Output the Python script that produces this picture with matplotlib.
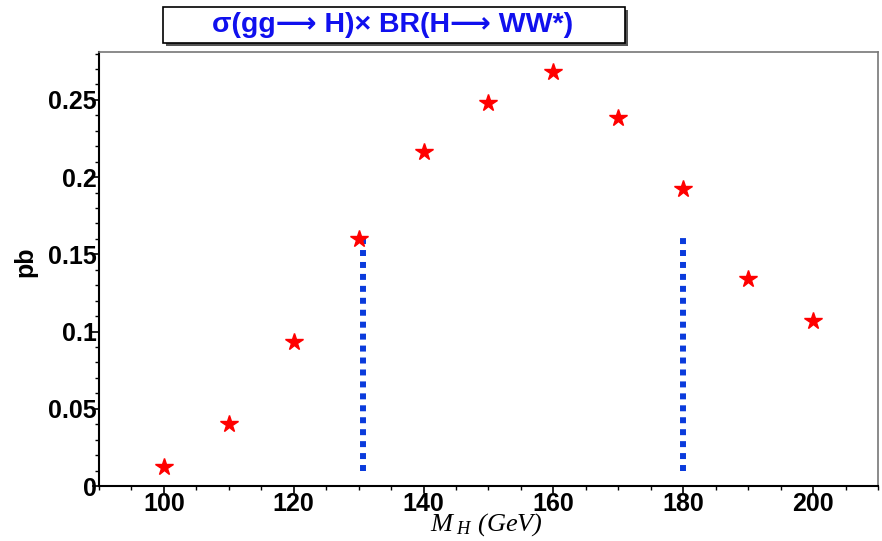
import matplotlib
matplotlib.use("Agg")
import matplotlib.pyplot as plt
from matplotlib.patches import Rectangle
from matplotlib.ticker import MultipleLocator

plt.rcParams['mathtext.fontset'] = 'custom'
plt.rcParams['mathtext.it'] = 'Liberation Serif:italic'
plt.rcParams['mathtext.rm'] = 'Liberation Serif'

mass = [100, 110, 120, 130, 140, 150, 160, 170, 180, 190, 200]
xsec = [0.012, 0.040, 0.093, 0.160, 0.216, 0.248, 0.268, 0.238, 0.192, 0.134, 0.107]
cut_lines = [130.7, 180.0]
cut_ymin = 0.010
cut_ymax = 0.162
x_ticks = [100, 120, 140, 160, 180, 200]
y_ticks = [0, 0.05, 0.1, 0.15, 0.2, 0.25]
y_tick_labels = ['0', '0.05', '0.1', '0.15', '0.2', '0.25']
title_text = 'σ(gg⟶ H)× BR(H⟶ WW*)'

W, H = 882, 541
fig = plt.figure(figsize=(W / 100, H / 100), dpi=100)
ax = fig.add_axes([99 / W, 1 - 486 / H, (878 - 99) / W, (486 - 52) / H])

ax.vlines(cut_lines, cut_ymin, cut_ymax, colors='#0a3bdc', linewidth=4.3,
          linestyles=[(0, (1, 1))], capstyle='butt', zorder=2)
ax.plot(mass, xsec, linestyle='none', marker='*', markersize=13,
        color='#ff0000', markeredgecolor='#ff0000', zorder=3)

ax.set_xlim(90, 210)
ax.set_ylim(0, 0.281)
ax.set_xticks(x_ticks)
ax.xaxis.set_minor_locator(MultipleLocator(5))
ax.set_yticks(y_ticks)
ax.set_yticklabels(y_tick_labels)
ax.yaxis.set_minor_locator(MultipleLocator(0.01))

for s in ['top', 'right']:
    ax.spines[s].set_color('#777777')
    ax.spines[s].set_linewidth(1.2)
for s in ['left', 'bottom']:
    ax.spines[s].set_color('black')
    ax.spines[s].set_linewidth(1.5)

ax.tick_params(axis='both', which='major', direction='out', length=5, width=1.2)
ax.tick_params(axis='both', which='minor', direction='out', length=3, width=1.0)
ax.tick_params(axis='x', which='major', pad=-0.5, labelsize=18)
ax.tick_params(axis='y', which='major', pad=-3.5, labelsize=18)
for lab in ax.get_xticklabels() + ax.get_yticklabels():
    lab.set_fontfamily(['Liberation Sans', 'DejaVu Sans'])
    lab.set_fontweight('bold')

fig.text(486 / W, 1 - 525 / H, r'$M_{\ H}$ (GeV)', fontsize=19, ha='center', va='center',
         family='Liberation Serif', style='italic')
fig.text(25 / W, 1 - 262 / H, 'pb', fontsize=18, fontweight='bold', rotation=90,
         ha='center', va='center', family=['Liberation Sans', 'DejaVu Sans'])

# Title box with shadow
bx0, bx1, by0, by1 = 163, 625, 7, 43
fig.patches.append(Rectangle(((bx0 + 3) / W, 1 - (by1 + 3) / H), (bx1 - bx0) / W,
                             (by1 - by0) / H, transform=fig.transFigure,
                             facecolor='#555555', edgecolor='none', zorder=1))
fig.patches.append(Rectangle((bx0 / W, 1 - by1 / H), (bx1 - bx0) / W,
                             (by1 - by0) / H, transform=fig.transFigure,
                             facecolor='white', edgecolor='black', linewidth=1.2,
                             zorder=2))
fig.text(393 / W, 1 - 25 / H, title_text, fontsize=20.5, fontweight='bold',
         color='#1010ee', ha='center', va='center',
         family=['Liberation Sans', 'DejaVu Sans'], zorder=3)

fig.savefig('out.png', dpi=100)
